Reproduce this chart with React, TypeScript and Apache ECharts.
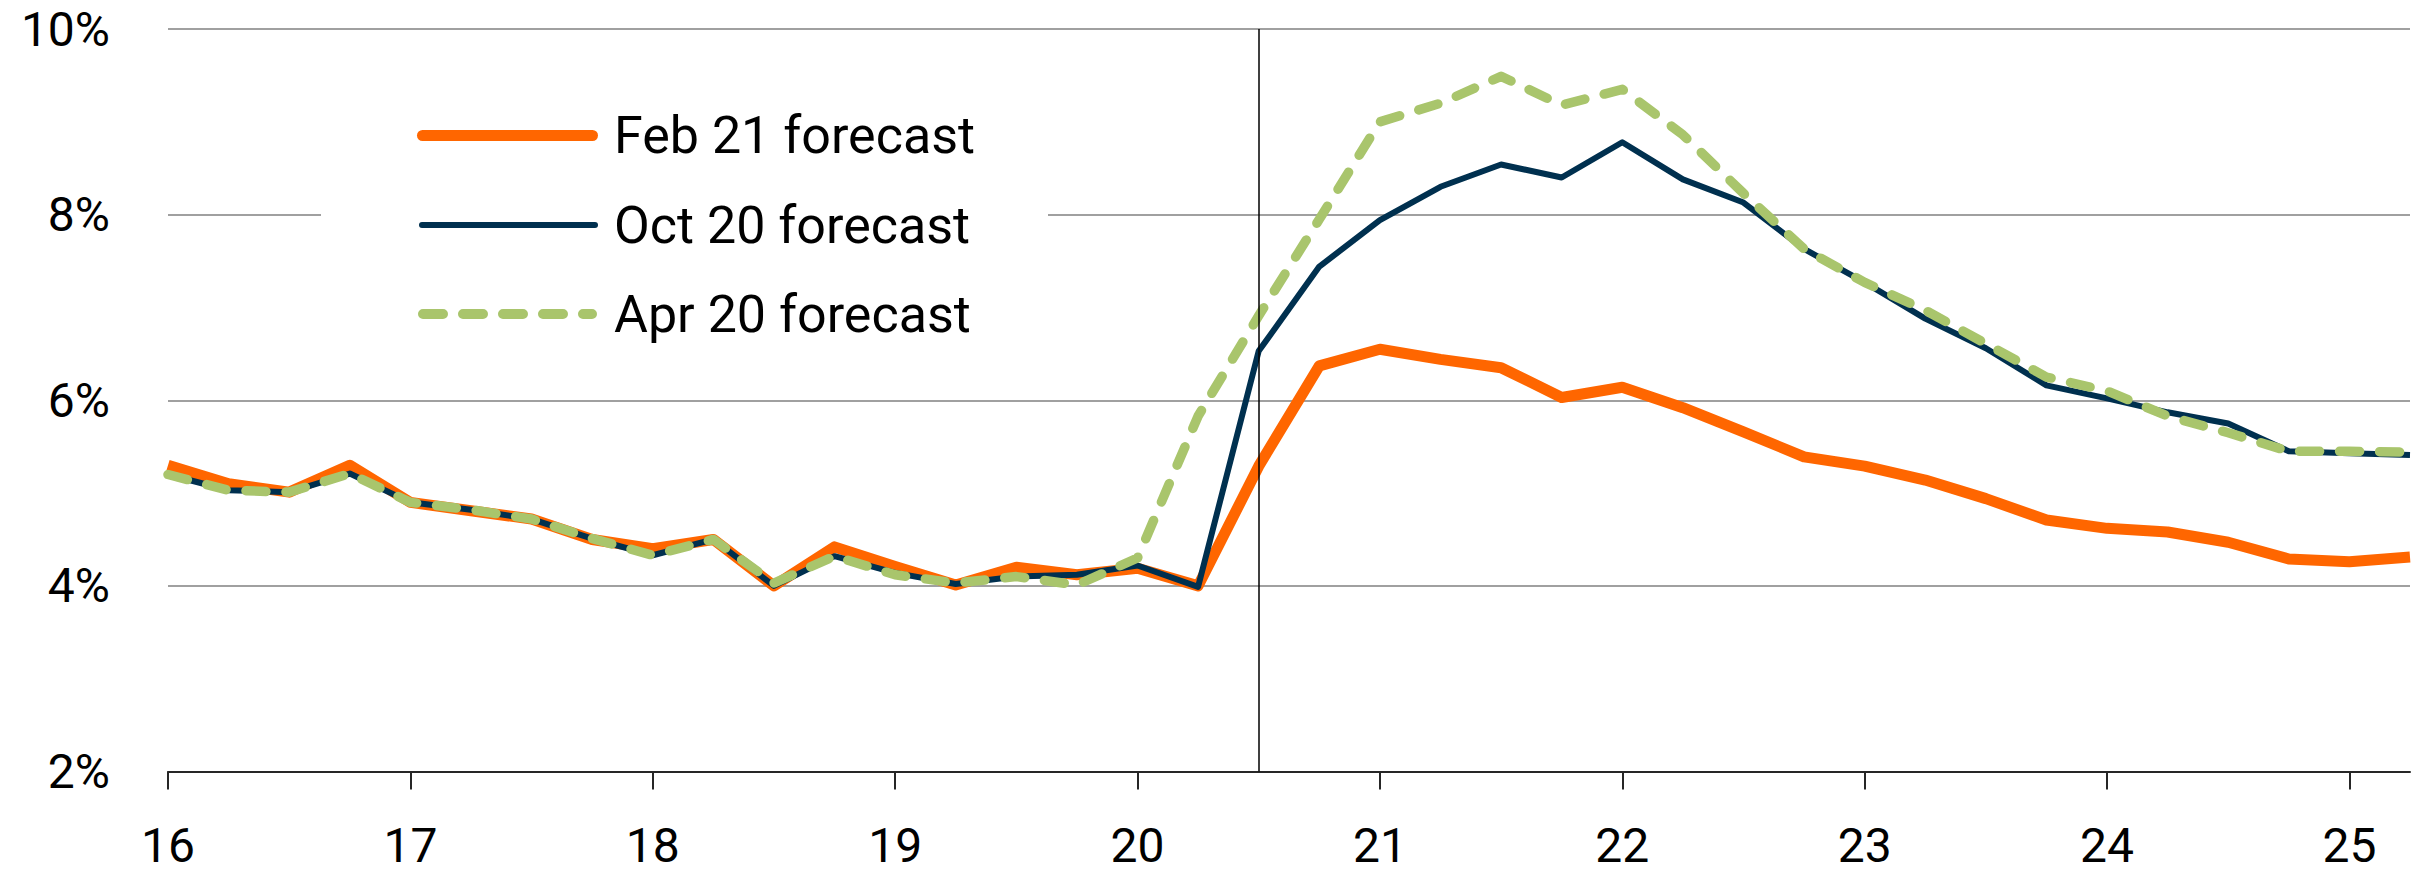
import React, { useEffect, useRef } from "react";
import * as echarts from "echarts";

const quarters = [
  16, 16.25, 16.5, 16.75, 17, 17.25, 17.5, 17.75, 18, 18.25, 18.5, 18.75,
  19, 19.25, 19.5, 19.75, 20, 20.25, 20.5, 20.75, 21, 21.25, 21.5, 21.75,
  22, 22.25, 22.5, 22.75, 23, 23.25, 23.5, 23.75, 24, 24.25, 24.5, 24.75,
  25, 25.25,
];

const feb21 = [
  5.3, 5.1, 5.01, 5.3, 4.9, 4.81, 4.72, 4.5, 4.4, 4.5, 4.0, 4.42,
  4.21, 4.01, 4.2, 4.12, 4.19, 4.0, 5.29, 6.37, 6.55, 6.44, 6.35, 6.03,
  6.14, 5.92, 5.66, 5.39, 5.29, 5.14, 4.94, 4.71, 4.62, 4.58, 4.47, 4.29,
  4.26, 4.31,
];

const oct20 = [
  5.2, 5.03, 5.01, 5.21, 4.9, 4.82, 4.72, 4.51, 4.33, 4.5, 4.0, 4.32,
  4.14, 4.02, 4.1, 4.12, 4.22, 3.99, 6.53, 7.44, 7.94, 8.3, 8.54, 8.4,
  8.78, 8.38, 8.13, 7.63, 7.27, 6.88, 6.56, 6.16, 6.02, 5.87, 5.75, 5.45,
  5.43, 5.41,
];

const apr20 = [
  5.2, 5.03, 5.01, 5.21, 4.9, 4.82, 4.72, 4.51, 4.33, 4.5, 4.03, 4.32,
  4.12, 4.03, 4.1, 4.01, 4.3, 5.83, 6.91, 7.95, 9.0, 9.2, 9.49, 9.18,
  9.35, 8.86, 8.23, 7.63, 7.27, 6.97, 6.61, 6.25, 6.1, 5.83, 5.65, 5.45,
  5.45, 5.44,
];

const seriesNames = ["Feb 21 forecast", "Oct 20 forecast", "Apr 20 forecast"];
const xTickValues = [16, 17, 18, 19, 20, 21, 22, 23, 24, 25];
const yTickValues = [2, 4, 6, 8, 10];
const forecastStart = 20.5;

const FONT = "Roboto, 'Open Sans', sans-serif";
const ORANGE = "#FF6600";
const NAVY = "#00304F";
const GREEN = "#A9C56C";

export default function App() {
  const ref = useRef<HTMLDivElement>(null);

  useEffect(() => {
    document.body.style.margin = "0";
    if (!ref.current) return;
    const chart = echarts.init(ref.current, null, { renderer: "svg" });
    const pairs = (vals: number[]) => quarters.map((q, i) => [q, vals[i]]);

    chart.setOption({
      animation: false,
      backgroundColor: "#ffffff",
      grid: {
        left: 168,
        right: 21,
        top: 29,
        bottom: 104.5,
        containLabel: false,
        outerBoundsMode: "none",
      },
      xAxis: {
        type: "value",
        min: 16,
        max: 25.25,
        interval: 1,
        axisLine: { show: true, lineStyle: { color: "#262626", width: 2 } },
        axisTick: {
          show: true,
          customValues: xTickValues,
          length: 18,
          lineStyle: { color: "#262626", width: 2 },
        },
        axisLabel: {
          customValues: xTickValues,
          margin: 50,
          fontSize: 48,
          fontFamily: FONT,
          color: "#000",
          formatter: (v: number) => String(v),
        },
        splitLine: { show: false },
      },
      yAxis: {
        type: "value",
        min: yTickValues[0],
        max: yTickValues[yTickValues.length - 1],
        interval: 2,
        axisLine: { show: false },
        axisTick: { show: false },
        axisLabel: {
          margin: 58,
          fontSize: 48,
          fontFamily: FONT,
          color: "#000",
          formatter: (v: number) => `${v}%`,
        },
        splitLine: { show: true, lineStyle: { color: "#A0A0A0", width: 2 } },
      },
      series: [
        {
          name: seriesNames[0],
          type: "line",
          data: pairs(feb21),
          symbol: "none",
          z: 2,
          lineStyle: { color: ORANGE, width: 11, join: "round" },
          markLine: {
            silent: true,
            symbol: ["none", "none"],
            label: { show: false },
            lineStyle: { color: "#000", width: 1.5, type: "solid" },
            data: [{ xAxis: forecastStart }],
          },
        },
        {
          name: seriesNames[1],
          type: "line",
          data: pairs(oct20),
          symbol: "none",
          z: 3,
          lineStyle: { color: NAVY, width: 6, join: "round" },
        },
        {
          name: seriesNames[2],
          type: "line",
          data: pairs(apr20),
          symbol: "none",
          z: 4,
          lineStyle: {
            color: GREEN,
            width: 9.5,
            type: [20, 20],
            cap: "round",
            join: "round",
          },
        },
      ],
      graphic: [
        {
          type: "rect",
          z: 100,
          silent: true,
          shape: { x: 321, y: 60, width: 727, height: 310 },
          style: { fill: "#ffffff" },
        },
        {
          type: "line",
          z: 101,
          shape: { x1: 422.5, y1: 135.5, x2: 592.5, y2: 135.5 },
          style: { stroke: ORANGE, lineWidth: 11, lineCap: "round" },
        },
        {
          type: "line",
          z: 101,
          shape: { x1: 422, y1: 225, x2: 595, y2: 225 },
          style: { stroke: NAVY, lineWidth: 6, lineCap: "round" },
        },
        {
          type: "line",
          z: 101,
          shape: { x1: 423, y1: 314, x2: 592, y2: 314 },
          style: {
            stroke: GREEN,
            lineWidth: 10,
            lineCap: "round",
            lineDash: [20, 20],
          },
        },
        ...seriesNames.map((name, i) => ({
          type: "text",
          z: 101,
          x: 614,
          y: [135.5, 225, 314][i],
          style: {
            text: name,
            fontSize: 52,
            fontFamily: FONT,
            fill: "#000",
            align: "left",
            verticalAlign: "middle",
          },
        })),
      ],
    });

    return () => chart.dispose();
  }, []);

  return (
    <div
      ref={ref}
      style={{ position: "absolute", left: 0, top: 0, width: 2431, height: 876 }}
    />
  );
}
